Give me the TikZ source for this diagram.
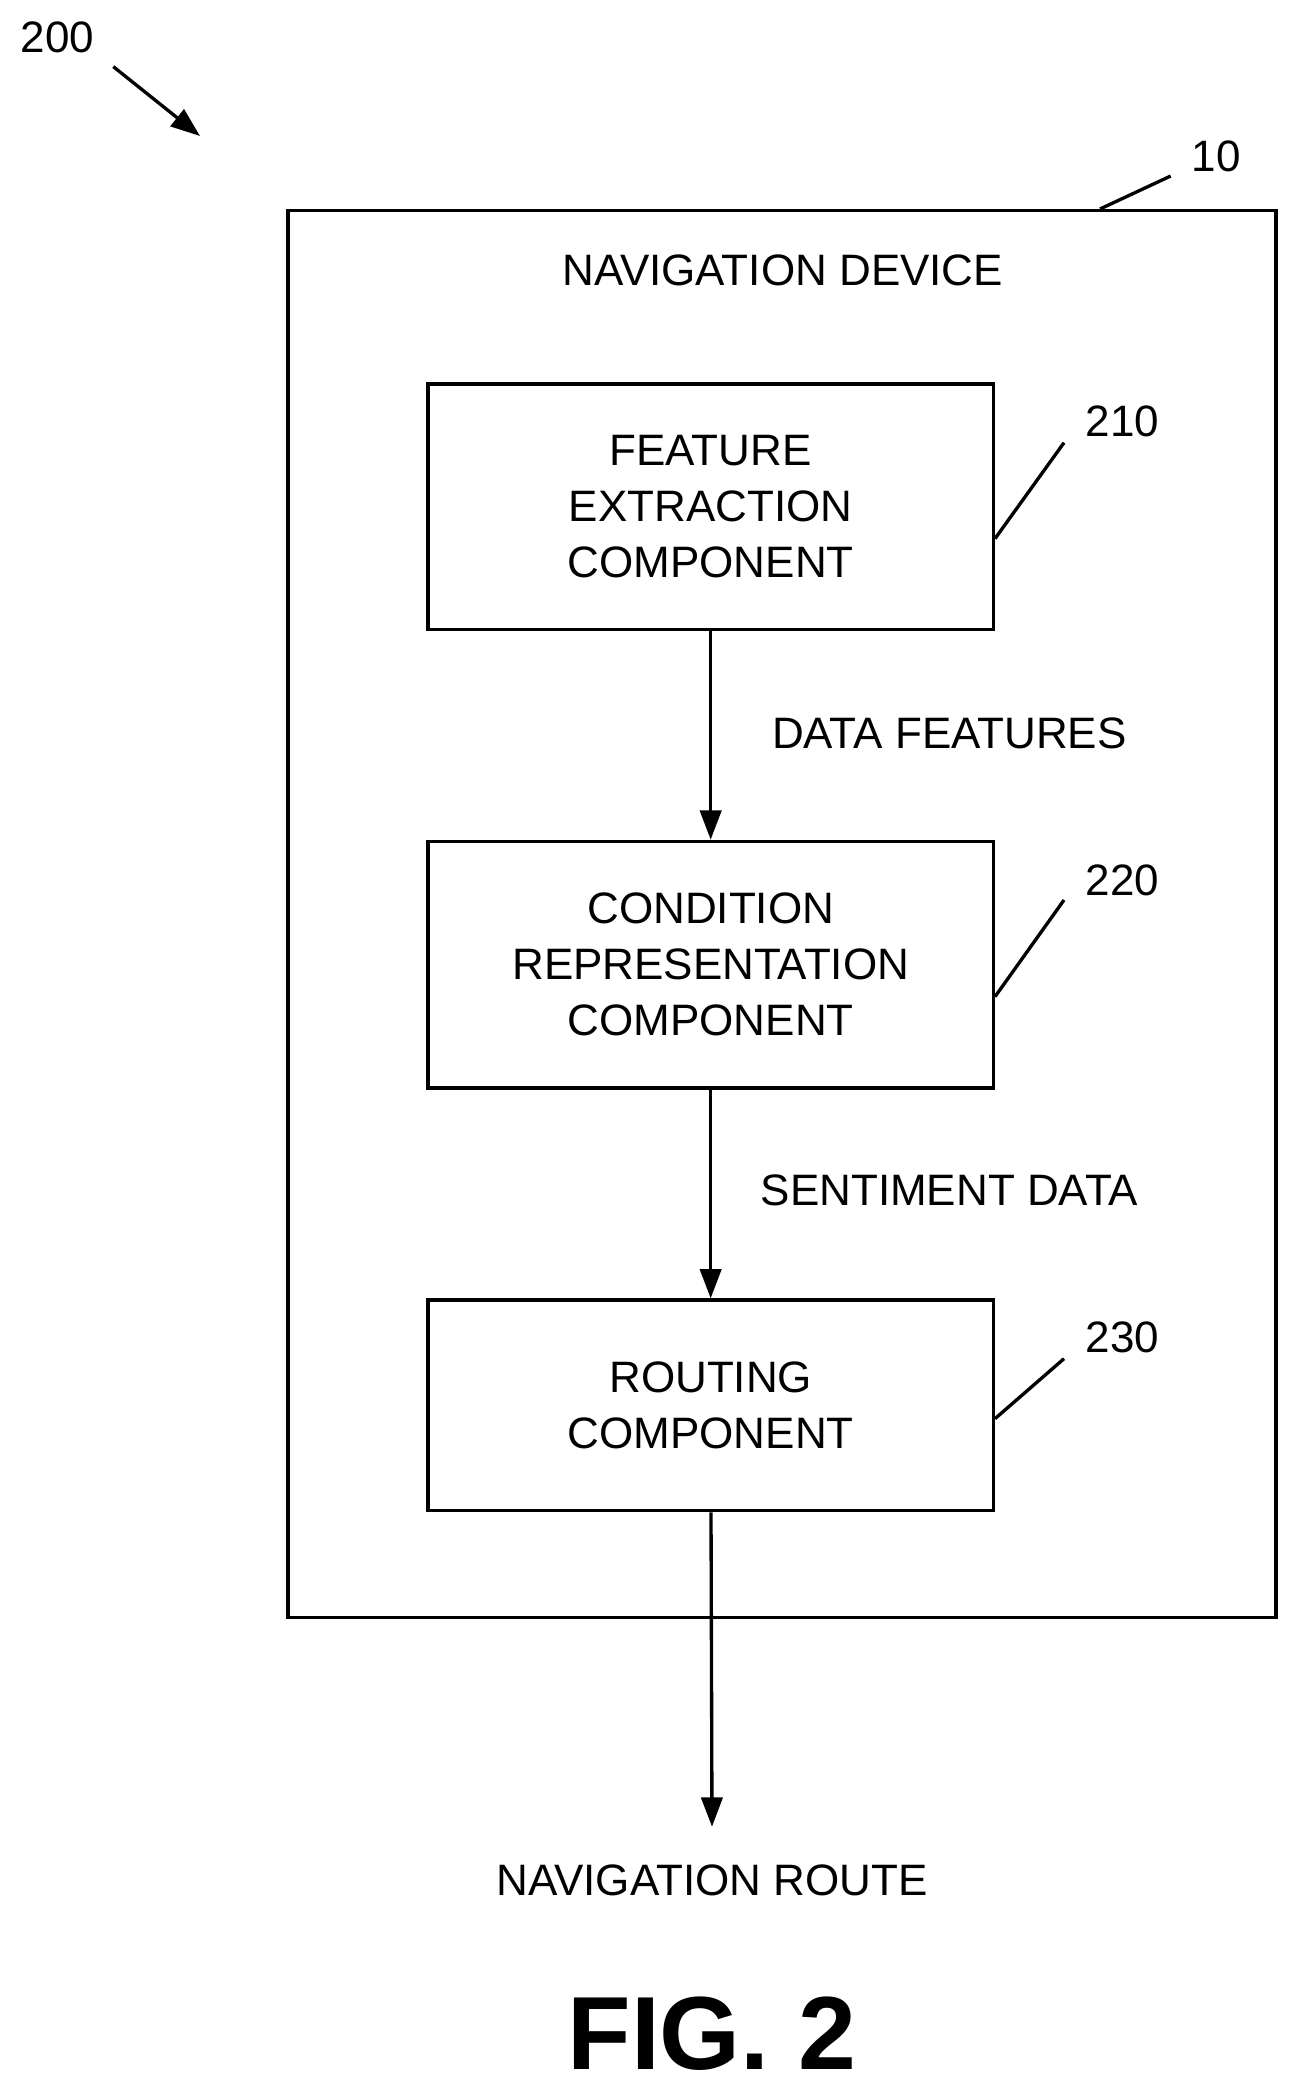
\documentclass[tikz,border=0pt]{standalone}
\usepackage{fontspec}
\setmainfont{Liberation Sans}
\usetikzlibrary{arrows.meta,positioning}
\begin{document}
\begin{tikzpicture}[x=1pt,y=-1pt,line width=2.5pt,
  comp/.style={rectangle,draw,minimum width=424pt,inner sep=0pt,align=center,
    font=\fontsize{33}{42}\selectfont},
  txt/.style={font=\fontsize{33}{42}\selectfont,inner sep=0pt},
  flow/.style={-{Triangle[length=22pt,width=16pt]}}]
\useasboundingbox (0,0) rectangle (975,1569);

\node[txt] (n200) at (43,28) {200};
\coordinate (a0) at (85,50);
\coordinate (a1) at (150,102);
\draw[flow] (a0) -- (a1);

\node[draw,minimum width=741pt,minimum height=1055pt,inner sep=0pt] (dev) at (586.5,685.5) {};
\node[txt] (n10) at (912,117) {10};
\coordinate (l10) at (878,132);
\draw (dev.north) ++(238.5,0) coordinate (d10) -- (l10);
\node[txt] at (587,203) {NAVIGATION DEVICE};

\node[comp,minimum height=184pt] (fe) at (533,380) {FEATURE\\EXTRACTION\\COMPONENT};
\node[comp,minimum height=185pt] (cr) at (533,723.5) {CONDITION\\REPRESENTATION\\COMPONENT};
\node[comp,minimum height=158pt] (rt) at (533,1054) {ROUTING\\COMPONENT};

% reference labels
\node[txt] (n210) at (842,316) {210};
\node[txt] (n220) at (842,660) {220};
\node[txt] (n230) at (842,1003) {230};
\coordinate (l210) at (798,332);
\coordinate (l220) at (798,675);
\coordinate (l230) at (798,1019);
\draw ([yshift=-24pt]fe.east) -- (l210);
\draw ([yshift=-24pt]cr.east) -- (l220);
\draw ([yshift=-10pt]rt.east) -- (l230);

\coordinate (out) at (534,1370);
\draw[flow] (fe) -- (cr);
\draw[flow] (cr) -- (rt);
\draw[flow] (rt) -- (out);
\node[txt] at (712,550) {DATA FEATURES};
\node[txt] at (712,893) {SENTIMENT DATA};
\node[txt] (route) at (534,1410) {NAVIGATION ROUTE};
\node[txt,font=\fontsize{78}{90}\selectfont\bfseries] at (534,1525) {FIG. 2};
\end{tikzpicture}
\end{document}
